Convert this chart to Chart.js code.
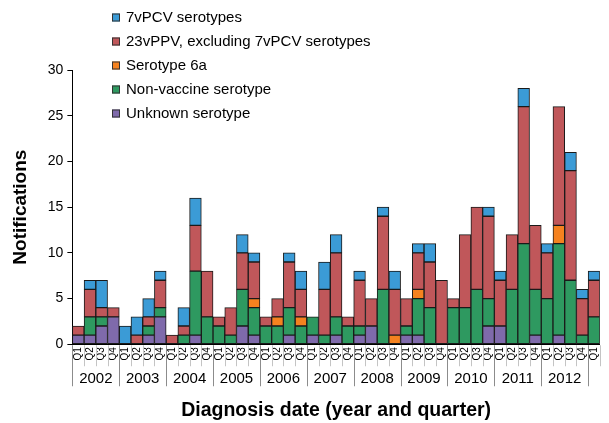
<!DOCTYPE html>
<html>
<head>
<meta charset="utf-8">
<script src="https://cdn.jsdelivr.net/npm/chart.js@4.4.0/dist/chart.umd.min.js"></script>
<style>
  html, body { margin: 0; padding: 0; background: #fff; }
  #wrap { width: 609px; height: 423px; }
</style>
</head>
<body>
<div id="wrap"><canvas id="chart"></canvas></div>
<script>
// ── Data (notifications per quarter, 2002 Q1 – 2013 Q1) ──
const years = ["2002", "2003", "2004", "2005", "2006", "2007", "2008", "2009", "2010", "2011", "2012"];
const quarters = [];
for (let y = 0; y < years.length; y++) quarters.push("Q1", "Q2", "Q3", "Q4");
quarters.push("Q1"); // 2013 Q1

const unknownSero = [1,1,2,3, 0,0,1,3, 0,0,1,0, 0,0,2,1, 0,0,1,0, 1,0,1,0, 1,2,0,0, 1,1,0,0, 0,0,0,2, 2,0,0,1, 0,1,0,0, 0];
const nonVaccine  = [0,2,1,0, 0,0,1,1, 0,1,7,3, 2,1,4,3, 2,2,3,2, 2,1,2,2, 1,0,6,0, 1,4,4,0, 4,4,6,3, 0,6,11,5, 5,10,7,1, 3];
const serotype6a  = [0,0,0,0, 0,0,0,0, 0,0,0,0, 0,0,0,1, 0,1,0,1, 0,0,0,0, 0,0,0,1, 0,1,0,0, 0,0,0,0, 0,0,0,0, 0,2,0,0, 0];
const ppv23       = [1,3,1,1, 0,1,1,3, 1,1,5,5, 1,3,4,4, 1,2,5,3, 0,5,7,1, 5,3,8,5, 3,4,5,7, 1,8,9,9, 5,6,15,7, 5,13,12,4, 4];
const pcv7        = [0,1,3,0, 2,2,2,1, 0,2,3,0, 0,0,2,1, 0,0,1,2, 0,3,2,0, 1,0,1,2, 0,1,2,0, 0,0,0,1, 1,0,2,0, 1,0,2,1, 1];

const yTicks = [0, 5, 10, 15, 20, 25, 30];

// bottom-to-top stacking order
const series = [
  { label: "Unknown serotype",                   data: unknownSero, color: "#7f6aab" },
  { label: "Non-vaccine serotype",               data: nonVaccine,  color: "#2e9960" },
  { label: "Serotype 6a",                        data: serotype6a,  color: "#f5821f" },
  { label: "23vPPV, excluding 7vPCV serotypes",  data: ppv23,       color: "#c0575a" },
  { label: "7vPCV serotypes",                    data: pcv7,        color: "#3b9bd6" },
];

const FONT = "'Liberation Sans', Arial, sans-serif";

// ── Legend (vertical list, top left) + year row under the quarters ──
const decorations = {
  id: "decorations",
  afterDraw(chart) {
    const ctx = chart.ctx;
    const x = chart.scales.x;
    const area = chart.chartArea;
    const half = (x.getPixelForValue(1) - x.getPixelForValue(0)) / 2;

    ctx.save();
    // quarter separators
    for (let i = 0; i <= quarters.length; i++) {
      const px = Math.round((i < quarters.length ? x.getPixelForValue(i) - half : x.getPixelForValue(i - 1) + half)) + 0.5;
      const isYear = i % 4 === 0;
      ctx.strokeStyle = isYear ? "#8c8c8c" : "#c4c4c4";
      ctx.lineWidth = 1;
      ctx.beginPath();
      ctx.moveTo(px, area.bottom + 1);
      ctx.lineTo(px, area.bottom + (isYear ? 42 : 22));
      ctx.stroke();
    }
    // year labels
    ctx.fillStyle = "#000";
    ctx.font = "15px " + FONT;
    ctx.textAlign = "center";
    ctx.textBaseline = "middle";
    years.forEach((yr, k) => {
      const cx = (x.getPixelForValue(k * 4) + x.getPixelForValue(k * 4 + 3)) / 2;
      ctx.fillText(yr, cx, area.bottom + 35);
    });

    // legend, in reverse stacking order
    ctx.font = "15px " + FONT;
    ctx.textAlign = "left";
    series.slice().reverse().forEach((s, i) => {
      const cy = 17.5 + i * 24;
      ctx.fillStyle = s.color;
      ctx.fillRect(112, cy - 4, 8, 8);
      ctx.strokeStyle = "#333";
      ctx.strokeRect(112.5, cy - 3.5, 7, 7);
      ctx.fillStyle = "#000";
      ctx.fillText(s.label, 126, cy + 0.5);
    });
    ctx.restore();
  }
};

new Chart(document.getElementById("chart"), {
  type: "bar",
  data: {
    labels: quarters,
    datasets: series.map(s => ({
      label: s.label,
      data: s.data.map(v => (v === 0 ? null : v)),
      backgroundColor: s.color,
      borderColor: "#1a1a1a",
      borderWidth: 1,
      borderSkipped: false,
      barPercentage: 1,
      categoryPercentage: 1,
    })),
  },
  options: {
    responsive: true,
    maintainAspectRatio: false,
    animation: false,
    devicePixelRatio: 1,
    layout: { padding: { top: 70, left: 9, right: 0, bottom: 1 } },
    plugins: { legend: { display: false }, tooltip: { enabled: false } },
    scales: {
      x: {
        stacked: true,
        grid: { display: false, drawTicks: false },
        border: { display: true, color: "#000", width: 1 },
        ticks: {
          color: "#000",
          font: { family: FONT, size: 10 },
          minRotation: 90, maxRotation: 90,
          padding: 3,
          autoSkip: false,
        },
        title: {
          display: true,
          text: "Diagnosis date (year and quarter)",
          color: "#000",
          font: { family: FONT, size: 19.5, weight: "bold" },
          padding: { top: 35, bottom: 0 },
        },
      },
      y: {
        stacked: true,
        min: 0, max: 30,
        afterBuildTicks: axis => { axis.ticks = yTicks.map(v => ({ value: v })); },
        grid: { drawOnChartArea: false, drawTicks: true, tickLength: 5, color: "#000" },
        border: { display: true, color: "#000", width: 1 },
        ticks: { color: "#000", font: { family: FONT, size: 14 }, padding: 4 },
        title: {
          display: true,
          text: "Notifications",
          color: "#000",
          font: { family: FONT, size: 19, weight: "bold" },
          padding: { top: 0, bottom: 12 },
        },
      },
    },
  },
  plugins: [decorations],
});
</script>
</body>
</html>
